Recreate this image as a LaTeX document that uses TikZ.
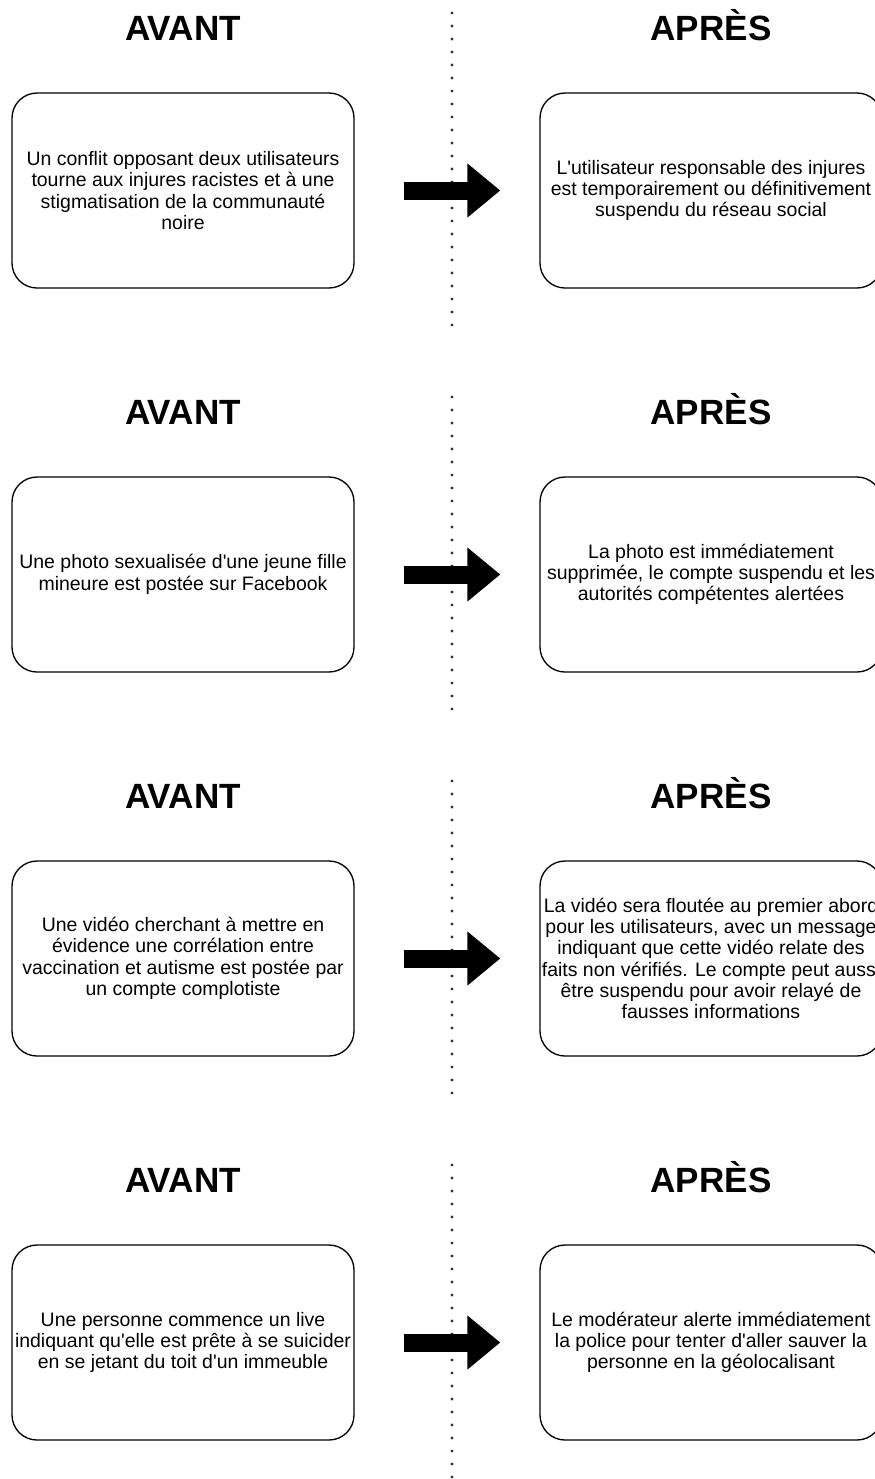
\documentclass[tikz,border=0pt]{standalone}
\usepackage{fontspec}
\newfontfamily\boxfont{Liberation Sans}
\usetikzlibrary{positioning,arrows.meta}

\begin{document}
\begin{tikzpicture}[x=0.75pt, y=-0.75pt, node distance=288pt,
    title/.style={font=\boxfont\bfseries\fontsize{26.3}{30}\selectfont, inner sep=0pt, text height=18.8pt, text depth=0pt},
    card/.style={rectangle, draw, line width=1pt, rounded corners=18.75pt, minimum width=256.5pt, minimum height=146.25pt, inner sep=0pt, align=center, font=\boxfont\fontsize{14.6}{16}\selectfont},
    sep/.style={line width=2.5pt, line cap=round, dash pattern=on 0pt off 9.75pt, black!80},
    bigarrow/.style={line width=13.5pt, -{Triangle[length=24.75pt, width=39pt]}}]
    \useasboundingbox (0,0) rectangle (875,1479);
    \clip (0,0) rectangle (875,1479);

    % row 1
    \node [title] (avant1) at (183,27.5) {AVANT};
    \node [title] (apres1) at (711,27.5) {APRÈS};
    \node [card] (left1) at (183,190.5) {Un conflit opposant deux utilisateurs\\tourne aux injures racistes et à une\\stigmatisation de la communauté\\noire};
    \node [card, node distance=396pt, right of=left1] (right1) {L'utilisateur responsable des injures\\est temporairement ou définitivement\\suspendu du réseau social};

    % row 2
    \node [title, below of=avant1] (avant2) {AVANT};
    \node [title, below of=apres1] (apres2) {APRÈS};
    \node [card, below of=left1] (left2) {Une photo sexualisée d'une jeune fille\\mineure est postée sur Facebook};
    \node [card, below of=right1] (right2) {La photo est immédiatement\\supprimée, le compte suspendu et les\\autorités compétentes alertées};

    % row 3
    \node [title, below of=avant2] (avant3) {AVANT};
    \node [title, below of=apres2] (apres3) {APRÈS};
    \node [card, below of=left2] (left3) {Une vidéo cherchant à mettre en\\évidence une corrélation entre\\vaccination et autisme est postée par\\un compte complotiste};
    \node [card, below of=right2] (right3) {La vidéo sera floutée au premier abord\\pour les utilisateurs, avec un message\\indiquant que cette vidéo relate des\\faits non vérifiés. Le compte peut aussi\\être suspendu pour avoir relayé de\\fausses informations};

    % row 4
    \node [title, below of=avant3] (avant4) {AVANT};
    \node [title, below of=apres3] (apres4) {APRÈS};
    \node [card, below of=left3] (left4) {Une personne commence un live\\indiquant qu'elle est prête à se suicider\\en se jetant du toit d'un immeuble};
    \node [card, below of=right3] (right4) {Le modérateur alerte immédiatement\\la police pour tenter d'aller sauver la\\personne en la géolocalisant};

    % separators
    \draw [sep] (452,13) -- (452,326.5);
    \draw [sep] (452,397) -- (452,710.5);
    \draw [sep] (452,781) -- (452,1094.5);
    \draw [sep] (452,1165) -- (452,1478.5);

    % arrows
    \coordinate [right=36.75pt of left1] (s1);
    \coordinate [left=29.25pt of right1] (e1);
    \coordinate [right=36.75pt of left2] (s2);
    \coordinate [left=29.25pt of right2] (e2);
    \coordinate [right=36.75pt of left3] (s3);
    \coordinate [left=29.25pt of right3] (e3);
    \coordinate [right=36.75pt of left4] (s4);
    \coordinate [left=29.25pt of right4] (e4);
    \draw [bigarrow] (s1) -- (e1);
    \draw [bigarrow] (s2) -- (e2);
    \draw [bigarrow] (s3) -- (e3);
    \draw [bigarrow] (s4) -- (e4);
\end{tikzpicture}
\end{document}
